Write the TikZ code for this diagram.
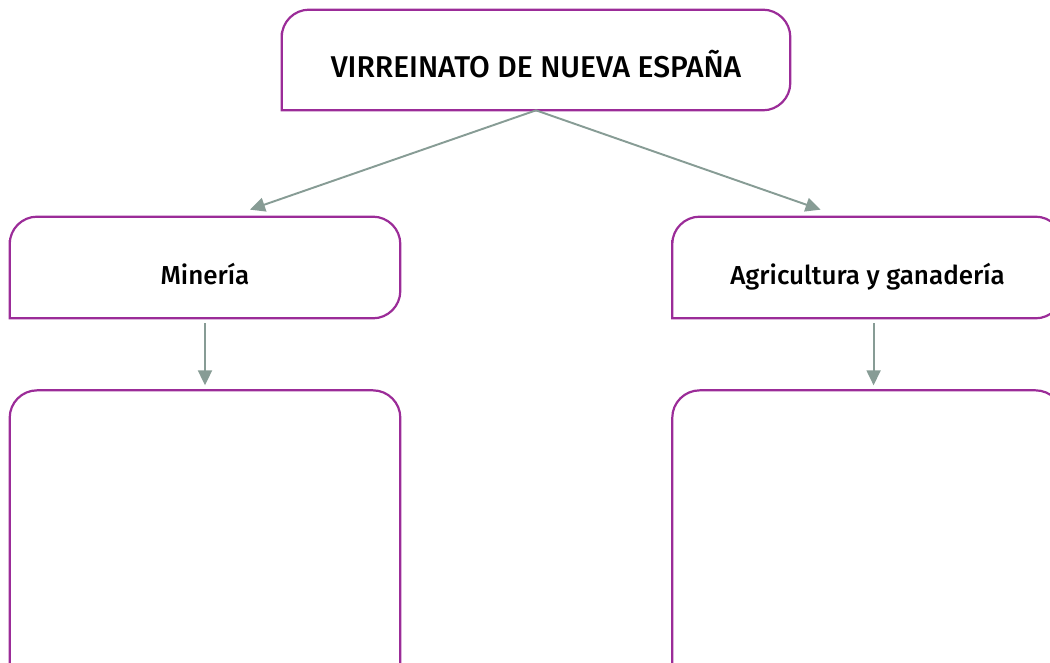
\documentclass[tikz,border=0pt]{standalone}
\usepackage{fontspec}
\setmainfont{Fira Sans}[BoldFont={* Medium}]
\usepackage{tikz}
\usetikzlibrary{arrows.meta,positioning}
\definecolor{FramePurple}{HTML}{9B2C98}
\definecolor{ArrowSage}{HTML}{879C95}

% outline with a square lower-left corner
\newcommand{\tabframe}[1]{%
  \draw[frame] (#1.west) -- (#1.south west) -- (#1.south)
    [rounded corners=0.55cm] -- (#1.south east) -- (#1.north east)
    -- (#1.north west) -- cycle;}

\begin{document}
\begin{tikzpicture}[
  x=0.02cm, y=-0.02cm,
  frame/.style={
    draw=FramePurple,
    line width=1.25pt
  },
  piece/.style={
    minimum width=7.8cm,
    minimum height=2.02cm,
    text height=0.7cm,
    text depth=0pt,
    inner sep=0pt,
    align=center,
    font=\fontsize{14.8}{17}\selectfont\bfseries
  },
  flow/.style={
    -{Triangle[length=0.3cm,width=0.28cm]},
    line width=1.1pt,
    draw=ArrowSage
  }
]
\clip (0,0) rectangle (1050,662);
\useasboundingbox (0,0) rectangle (1050,662);

% Top
\node[piece, minimum width=10.16cm, minimum height=2cm,
  font=\fontsize{17.1}{20}\selectfont\bfseries] (virreinato)
  at (536,60) {VIRREINATO DE NUEVA ESPAÑA};

% Middle left/right
\node[piece] (mineria) at (205,267.5) {Minería};
\node[piece, right=5.44cm of mineria] (agricultura)
  {Agricultura y ganadería};

% Empty boxes below
\node[piece, minimum height=6cm, below=1.44cm of mineria] (mineriabox) {};
\node[piece, minimum height=6cm, below=1.44cm of agricultura] (agriculturabox) {};

\tabframe{virreinato}
\tabframe{mineria}
\tabframe{agricultura}
\tabframe{mineriabox}
\tabframe{agriculturabox}

% Connections
\draw[flow] (virreinato.south) -- ([xshift=0.9cm,yshift=0.14cm]mineria.north);
\draw[flow] (virreinato.south) -- ([xshift=-0.94cm,yshift=0.14cm]agricultura.north);
\draw[flow, shorten <=0.1cm, shorten >=0.1cm] (mineria.south) -- (mineriabox.north);
\draw[flow, shorten <=0.1cm, shorten >=0.1cm]
  ([xshift=0.12cm]agricultura.south) -- ([xshift=0.12cm]agriculturabox.north);

\end{tikzpicture}
\end{document}
